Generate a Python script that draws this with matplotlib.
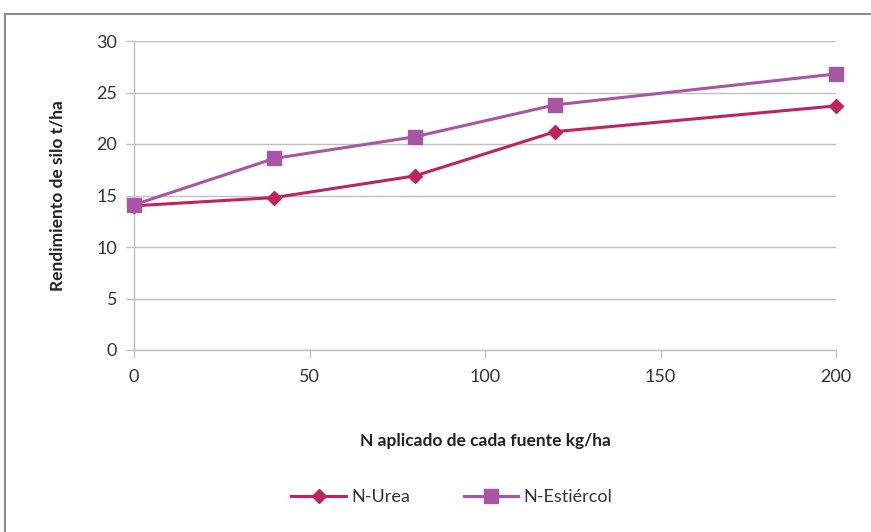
import matplotlib
matplotlib.use("Agg")
import matplotlib.pyplot as plt
from matplotlib.patches import Rectangle

x_n = [0, 40, 80, 120, 200]
urea = [14.0, 14.8, 16.9, 21.2, 23.7]
estiercol = [14.1, 18.6, 20.7, 23.8, 26.8]
x_ticks = [0, 50, 100, 150, 200]
y_ticks = [0, 5, 10, 15, 20, 25, 30]

plt.rcParams['font.family'] = ['Lato', 'DejaVu Sans']

fig = plt.figure(figsize=(8.71, 5.32), dpi=100)
W, H = 871, 532
ax = fig.add_axes([134 / W, 1 - 350 / H, (836 - 134) / W, (350 - 41) / H])

# outer chart border
fig.patches.append(Rectangle((5 / W, -0.1), 1.2, 1 - 14 / H + 0.1, transform=fig.transFigure,
                             fill=False, edgecolor='#8c8c8c', linewidth=1.5))

ax.plot(x_n, urea, color='#C0245C', linewidth=2.2, marker='D', markersize=7,
        label='N-Urea', zorder=3, clip_on=False)
ax.plot(x_n, estiercol, color='#A855A6', linewidth=2.2, marker='s', markersize=10,
        label='N-Estiércol', zorder=3, clip_on=False)

ax.set_xlim(0, 200)
ax.set_ylim(0, 30)
ax.set_xticks(x_ticks)
ax.set_yticks(y_ticks)
ax.grid(axis='y', color='#bfbfbf', linewidth=1)
ax.set_axisbelow(True)
for s in ['top', 'right']:
    ax.spines[s].set_visible(False)
for s in ['left', 'bottom']:
    ax.spines[s].set_color('#bfbfbf')
    ax.spines[s].set_linewidth(1)
ax.tick_params(axis='both', colors='#bfbfbf', labelcolor='#333333', labelsize=13,
               length=6, width=1)
ax.tick_params(axis='x', pad=8)
ax.tick_params(axis='y', pad=6)

ax.set_ylabel('Rendimiento de silo t/ha', fontsize=12.5, fontweight='bold', color='#222222', labelpad=22)
ax.set_xlabel('N aplicado de cada fuente kg/ha', fontsize=12.5, fontweight='bold', color='#222222', labelpad=34)

leg = fig.legend(loc='center', bbox_to_anchor=(452 / W, 1 - 497 / H), ncol=2, frameon=False,
                 fontsize=13, handlelength=3, columnspacing=3, handletextpad=0.3)
for t in leg.get_texts():
    t.set_color('#333333')

fig.savefig('out.png', dpi=100)
